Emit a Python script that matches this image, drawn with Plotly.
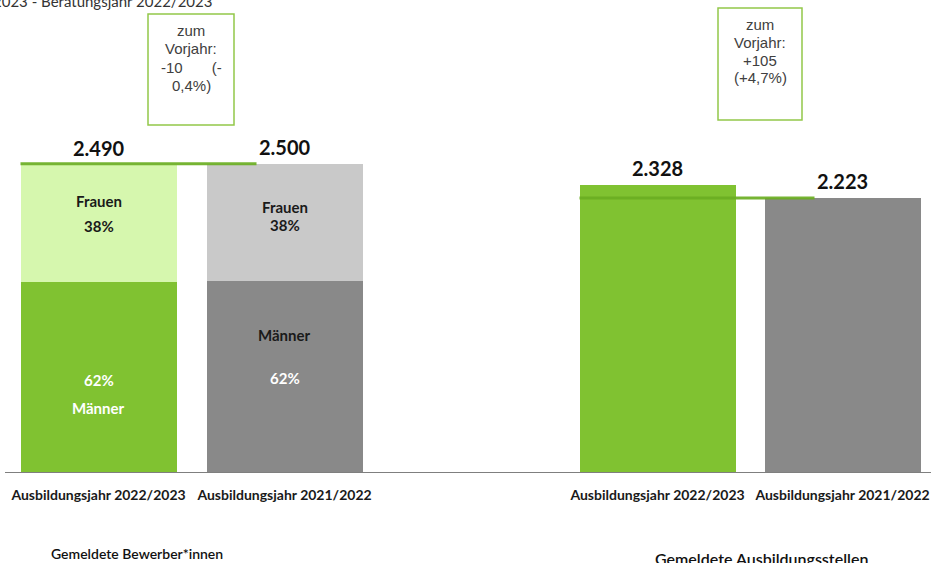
import plotly.graph_objects as go

# ---------------- data ----------------
year_labels = ["Ausbildungsjahr 2022/2023", "Ausbildungsjahr 2021/2022"]
group_titles = ["Gemeldete Bewerber*innen", "Gemeldete Ausbildungsstellen"]

bewerber_total = [2490, 2500]
bewerber_frauen_pct = [38, 38]
bewerber_maenner_pct = [62, 62]

stellen_total = [2328, 2223]

delta_bewerber = ["zum", "Vorjahr:", "-10\u00a0\u00a0\u00a0\u00a0\u00a0\u00a0\u00a0(-", "0,4%)"]
delta_stellen = ["zum", "Vorjahr:", "+105", "(+4,7%)"]
header_text = "2023 - Beratungsjahr 2022/2023"

# ---------------- layout constants ----------------
W, H = 931, 563
PLOT_H = 473          # pixel row of the baseline
YMAX = 3824           # value range shown above baseline
centers_left = [98.5, 284.5]
centers_right = [657.5, 842.5]
BAR_W = 156

GREEN = "#80c231"
LIGHT_GREEN = "#d6f7ae"
GRAY = "#898989"
LIGHT_GRAY = "#c9c9c9"
LINE_GREEN = "rgba(106,174,34,0.92)"
BOX_GREEN = "#93c84a"


def py(p):
    """pixel row -> paper y"""
    return (PLOT_H - p) / PLOT_H


maenner_vals = [t * m / 100 for t, m in zip(bewerber_total, bewerber_maenner_pct)]
frauen_vals = [t - m for t, m in zip(bewerber_total, maenner_vals)]

fig = go.Figure()

# stacked bars (Bewerber)
fig.add_trace(go.Bar(x=centers_left, y=maenner_vals, width=BAR_W,
                     marker=dict(color=[GREEN, GRAY], line=dict(width=0)),
                     hoverinfo="skip", showlegend=False))
fig.add_trace(go.Bar(x=centers_left, y=frauen_vals, width=BAR_W,
                     marker=dict(color=[LIGHT_GREEN, LIGHT_GRAY], line=dict(width=0)),
                     hoverinfo="skip", showlegend=False))
# single bars (Stellen)
fig.add_trace(go.Bar(x=centers_right, y=stellen_total, width=BAR_W,
                     marker=dict(color=[GREEN, GRAY], line=dict(width=0)),
                     hoverinfo="skip", showlegend=False))

# previous-year reference lines
fig.add_trace(go.Scatter(x=[centers_left[0] - BAR_W / 2, centers_left[1] - 28],
                         y=[bewerber_total[1], bewerber_total[1]],
                         mode="lines", line=dict(color=LINE_GREEN, width=3),
                         hoverinfo="skip", showlegend=False))
fig.add_trace(go.Scatter(x=[centers_right[0] - BAR_W / 2, centers_right[1] - 28],
                         y=[stellen_total[1], stellen_total[1]],
                         mode="lines", line=dict(color=LINE_GREEN, width=3),
                         hoverinfo="skip", showlegend=False))

ann = []


def fmt(v):
    return f"{v:,.0f}".replace(",", ".")


# value labels
for cx, v in zip(centers_left + centers_right, bewerber_total + stellen_total):
    ann.append(dict(x=cx, y=v, xref="x", yref="y", text=f"<b>{fmt(v)}</b>",
                    showarrow=False, yshift=17, yanchor="middle",
                    font=dict(family="Lato", size=20, color="#111111")))

# inside labels
FONT_IN = "Lato"
for i, cx in enumerate(centers_left):
    f_mid = maenner_vals[i] + frauen_vals[i] / 2
    m_mid = maenner_vals[i] / 2
    if i == 0:
        items = [("Frauen", f_mid, 23, "#1a1a1a"),
                 (f"{bewerber_frauen_pct[i]}%", f_mid, -2, "#1a1a1a"),
                 (f"{bewerber_maenner_pct[i]}%", m_mid, -2, "white"),
                 ("Männer", m_mid, -30, "white")]
    else:
        items = [("Frauen", f_mid, 16, "#1a1a1a"),
                 (f"{bewerber_frauen_pct[i]}%", f_mid, -2, "#1a1a1a"),
                 ("Männer", m_mid, 42, "#1a1a1a"),
                 (f"{bewerber_maenner_pct[i]}%", m_mid, -1, "white")]
    for txt, yv, ys, col in items:
        ann.append(dict(x=cx, y=yv, xref="x", yref="y", text=f"<b>{txt}</b>",
                        showarrow=False, yshift=ys, yanchor="middle",
                        font=dict(family=FONT_IN, size=15, color=col)))

# change boxes text (one annotation per line, 18 px line pitch)
for cx, first_row, lines in [(191, 31, delta_bewerber), (760, 24, delta_stellen)]:
    for k, line in enumerate(lines):
        ann.append(dict(x=cx, y=py(first_row + 18 * k), xref="x", yref="paper",
                        text=line, showarrow=False, yanchor="middle",
                        font=dict(family="Liberation Sans", size=15, color="#404040")))

# header (clipped at top)
ann.append(dict(x=214, y=py(1), xref="x", yref="paper", text=header_text,
                showarrow=False, xanchor="right", yanchor="middle",
                font=dict(family="Lato", size=15, color="#333333")))

# group titles
ann.append(dict(x=137, y=py(553), xref="x", yref="paper", text=group_titles[0],
                showarrow=False, yanchor="middle",
                font=dict(family="Lato", size=14, color="#111111", weight=600)))
ann.append(dict(x=761, y=py(558), xref="x", yref="paper", text=group_titles[1],
                showarrow=False, yanchor="middle",
                font=dict(family="Lato", size=16, color="#111111", weight=600)))

shapes = [
    dict(type="rect", xref="x", yref="paper", x0=148, x1=234, y0=py(125), y1=py(14),
         line=dict(color=BOX_GREEN, width=1.5), fillcolor="rgba(0,0,0,0)"),
    dict(type="rect", xref="x", yref="paper", x0=718, x1=802, y0=py(120), y1=py(8),
         line=dict(color=BOX_GREEN, width=1.5), fillcolor="rgba(0,0,0,0)"),
    dict(type="line", xref="x", yref="y", x0=5, x1=931, y0=0, y1=0,
         line=dict(color="#7f7f7f", width=2)),
]

fig.update_layout(
    width=W, height=H,
    margin=dict(l=0, r=0, t=0, b=H - PLOT_H),
    paper_bgcolor="white", plot_bgcolor="white",
    barmode="stack", bargap=0,
    xaxis=dict(range=[0, W], showgrid=False, zeroline=False, showline=False,
               tickvals=centers_left + centers_right,
               ticktext=year_labels + year_labels,
               ticks="outside", ticklen=9, tickcolor="rgba(0,0,0,0)",
               tickfont=dict(family="Lato", size=14, color="#1a1a1a", weight=700),
               fixedrange=True),
    yaxis=dict(range=[0, YMAX], visible=False, fixedrange=True),
    annotations=ann,
    shapes=shapes,
)

fig.write_html("out.html",
               config={"displayModeBar": False},
               post_script="document.body.style.margin='0px';document.body.style.overflow='hidden';")
